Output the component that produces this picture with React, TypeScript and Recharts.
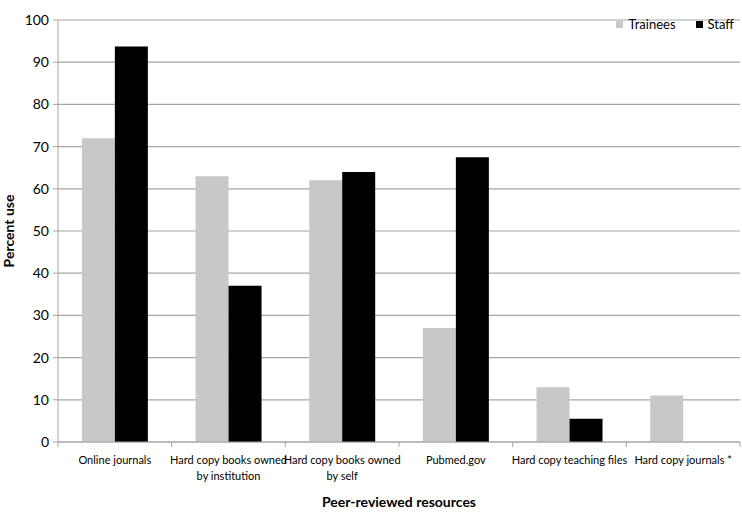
import { BarChart, Bar, XAxis, YAxis, CartesianGrid, Legend, Label } from 'recharts';

const categories = [
  'Online journals',
  'Hard copy books owned\nby institution',
  'Hard copy books owned\nby self',
  'Pubmed.gov',
  'Hard copy teaching files',
  'Hard copy journals *',
];
const trainees = [72, 63, 62, 27, 13, 11];
const staff = [93.7, 37, 64, 67.5, 5.5, 0];
const yTicks = [0, 10, 20, 30, 40, 50, 60, 70, 80, 90, 100];
const seriesNames = ['Trainees', 'Staff'];
const seriesColors = ['#c8c8c8', '#000000'];

const data = categories.map((name, i) => ({ name, Trainees: trainees[i], Staff: staff[i] }));

const FONT = 'Lato, "Open Sans", sans-serif';
const GRID = '#a6a6a6';

function CategoryTick(props: any) {
  const { x, y, payload, index } = props;
  const band = 682 / categories.length;
  const lines = String(payload.value).split('\n');
  return (
    <g>
      <line x1={x - band / 2} x2={x - band / 2} y1={y - 8} y2={y - 3} stroke={GRID} />
      {index === categories.length - 1 && (
        <line x1={x + band / 2} x2={x + band / 2} y1={y - 8} y2={y - 3} stroke={GRID} />
      )}
      <text x={x} y={y + 14} textAnchor="middle" fontSize={11} fill="#000" fontFamily={FONT}>
        {lines.map((l, i) => (
          <tspan key={i} x={x} dy={i === 0 ? 0 : 16}>{l}</tspan>
        ))}
      </text>
    </g>
  );
}

function LegendBox() {
  return (
    <div style={{ display: 'flex', gap: 20, fontFamily: FONT, fontSize: 13, color: '#000' }}>
      {seriesNames.map((n, i) => (
        <span key={n} style={{ display: 'flex', alignItems: 'center', gap: 5 }}>
          <span style={{ width: 7, height: 7, background: seriesColors[i], display: 'inline-block' }} />
          {n}
        </span>
      ))}
    </div>
  );
}

export default function App() {
  return (
    <div style={{ position: 'absolute', left: 0, top: 0, background: '#fff' }}>
      <BarChart
        width={742}
        height={512}
        data={data}
        margin={{ top: 4, right: 2, bottom: 0, left: 0 }}
        barCategoryGap="21%"
        barGap={0}
      >
        <CartesianGrid vertical={false} stroke={GRID} strokeWidth={1.2} />
        <XAxis
          dataKey="name"
          height={70}
          tick={<CategoryTick />}
          tickLine={false}
          axisLine={{ stroke: GRID }}
          interval={0}
        >
          <Label
            value="Peer-reviewed resources"
            position="insideBottom"
            offset={5}
            style={{ fontFamily: FONT, fontSize: 14, fontWeight: 'bold', fill: '#000' }}
          />
        </XAxis>
        <YAxis
          width={58}
          domain={[0, 100]}
          ticks={yTicks}
          tickSize={5}
          tickMargin={4}
          tick={{ fontFamily: FONT, fontSize: 14, fill: '#000' }}
          tickLine={{ stroke: GRID }}
          axisLine={{ stroke: GRID }}
        >
          <Label
            value="Percent use"
            angle={-90}
            position="insideLeft"
            offset={9}
            style={{ fontFamily: FONT, fontSize: 14, fontWeight: 'bold', fill: '#000', textAnchor: 'middle' }}
          />
        </YAxis>
        <Legend
          verticalAlign="top"
          align="right"
          content={<LegendBox />}
          wrapperStyle={{ top: 16, right: 8, width: 'auto' }}
        />
        <Bar dataKey="Trainees" fill={seriesColors[0]} isAnimationActive={false} />
        <Bar dataKey="Staff" fill={seriesColors[1]} isAnimationActive={false} />
      </BarChart>
    </div>
  );
}
